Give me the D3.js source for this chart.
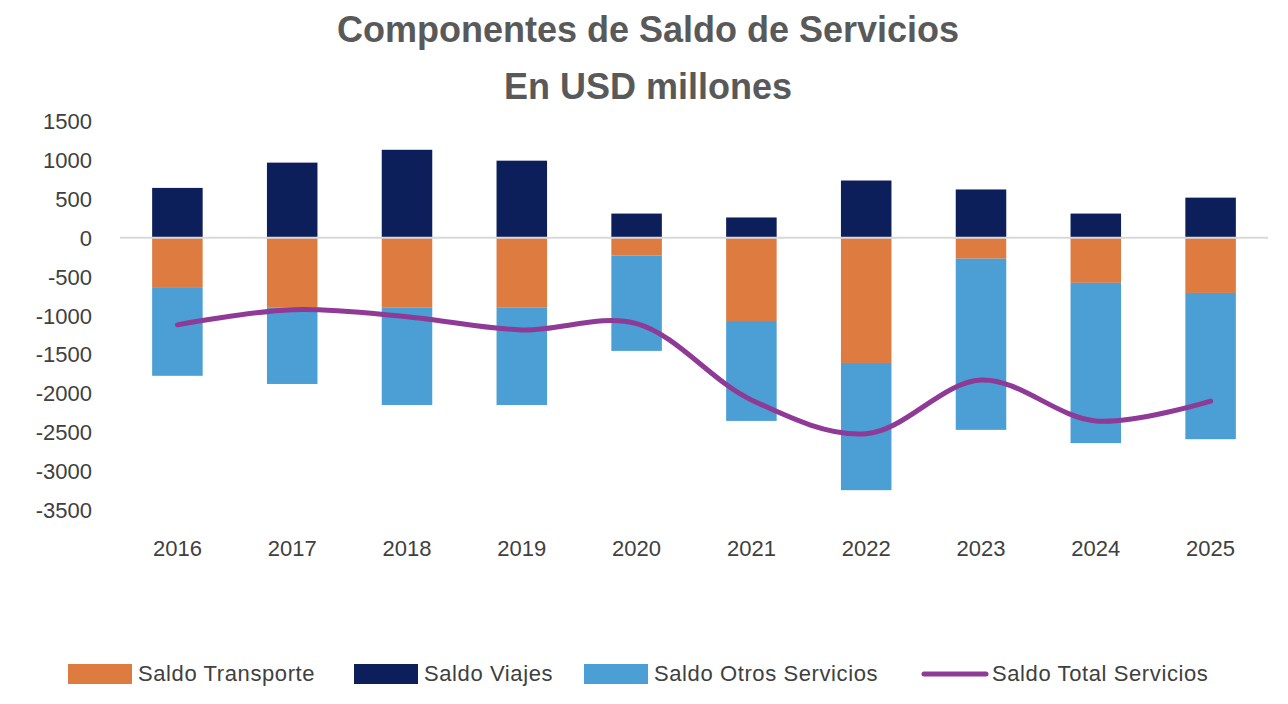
<!DOCTYPE html>
<html><head><meta charset="utf-8">
<script src="https://cdn.jsdelivr.net/npm/d3@7"></script>
<style>body{margin:0;background:#fff}</style>
</head><body><svg id="chart" width="1288" height="704"></svg>
<script>
var years = ["2016","2017","2018","2019","2020","2021","2022","2023","2024","2025"];
var transporte = [-645,-900,-900,-900,-230,-1070,-1610,-270,-580,-710];
var viajes = [640,965,1130,990,310,260,735,620,310,515];
var otros = [-1130,-980,-1250,-1250,-1225,-1285,-1635,-2200,-2060,-1880];
var total = [-1120,-925,-1015,-1185,-1105,-2085,-2520,-1830,-2355,-2100];
var yTicks = [1500,1000,500,0,-500,-1000,-1500,-2000,-2500,-3000,-3500];

var cTrans = "#dd7b40", cViajes = "#0c1f5a", cOtros = "#4b9fd4", cTotal = "#8e3a96";
var svg = d3.select("#chart");
var font = "'Liberation Sans', Arial, sans-serif";

var x = d3.scaleBand().domain(years).range([120, 1268]).paddingInner(0.56).paddingOuter(0.28);
var y = d3.scaleLinear().domain([-3500, 1500]).range([510, 121]);

// title
svg.append("text").attr("x", 648).attr("y", 42).attr("text-anchor", "middle")
  .attr("font-family", font).attr("font-weight", "bold").attr("font-size", 36).attr("fill", "#595959")
  .text("Componentes de Saldo de Servicios");
svg.append("text").attr("x", 648).attr("y", 99).attr("text-anchor", "middle")
  .attr("font-family", font).attr("font-weight", "bold").attr("font-size", 36).attr("fill", "#595959")
  .text("En USD millones");

// y labels
svg.selectAll(".yl").data(yTicks).enter().append("text")
  .attr("x", 92).attr("y", d => y(d) + 8).attr("text-anchor", "end")
  .attr("font-family", font).attr("font-size", 22).attr("fill", "#404040")
  .text(d => d);

// bars
svg.selectAll(".bv").data(years).enter().append("rect")
  .attr("x", d => x(d)).attr("width", x.bandwidth())
  .attr("y", (d, i) => y(viajes[i])).attr("height", (d, i) => y(0) - y(viajes[i]))
  .attr("fill", cViajes);
svg.selectAll(".bt").data(years).enter().append("rect")
  .attr("x", d => x(d)).attr("width", x.bandwidth())
  .attr("y", y(0)).attr("height", (d, i) => y(transporte[i]) - y(0))
  .attr("fill", cTrans);
svg.selectAll(".bo").data(years).enter().append("rect")
  .attr("x", d => x(d)).attr("width", x.bandwidth())
  .attr("y", (d, i) => y(transporte[i])).attr("height", (d, i) => y(transporte[i] + otros[i]) - y(transporte[i]))
  .attr("fill", cOtros);

// zero line
svg.append("line").attr("x1", 120).attr("x2", 1268).attr("y1", y(0)).attr("y2", y(0))
  .attr("stroke", "#d9d9d9").attr("stroke-width", 2);

// total line
var line = d3.line().x((d, i) => x(years[i]) + x.bandwidth() / 2).y(d => y(d)).curve(d3.curveCatmullRom.alpha(0.5));
svg.append("path").datum(total).attr("d", line).attr("fill", "none")
  .attr("stroke", cTotal).attr("stroke-width", 5).attr("stroke-linecap", "round");

// x labels
svg.selectAll(".xl").data(years).enter().append("text")
  .attr("x", d => x(d) + x.bandwidth() / 2).attr("y", 556).attr("text-anchor", "middle")
  .attr("font-family", font).attr("font-size", 22).attr("fill", "#404040")
  .text(d => d);

// legend
var legend = [
  {name: "Saldo Transporte", color: cTrans, x: 68, type: "rect"},
  {name: "Saldo Viajes", color: cViajes, x: 354, type: "rect"},
  {name: "Saldo Otros Servicios", color: cOtros, x: 584, type: "rect"},
  {name: "Saldo Total Servicios", color: cTotal, x: 922, type: "line"}
];
legend.forEach(function(l) {
  if (l.type === "rect") {
    svg.append("rect").attr("x", l.x).attr("y", 664).attr("width", 64).attr("height", 20).attr("fill", l.color);
  } else {
    svg.append("line").attr("x1", l.x + 2).attr("x2", l.x + 64).attr("y1", 674).attr("y2", 674)
      .attr("stroke", l.color).attr("stroke-width", 5).attr("stroke-linecap", "round");
  }
  svg.append("text").attr("x", l.x + 70).attr("y", 681).attr("letter-spacing", 0.6)
    .attr("font-family", font).attr("font-size", 22).attr("fill", "#404040").text(l.name);
});
</script></body></html>
